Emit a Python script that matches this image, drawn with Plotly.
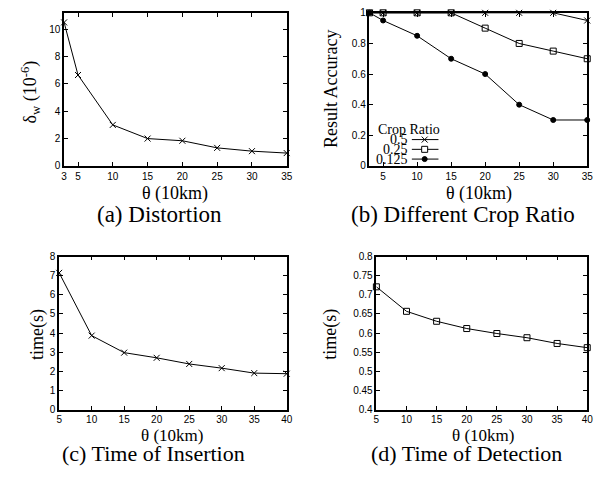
import plotly.graph_objects as go

# ── data ─────────────────────────────────────────────────────────────────────

THETA_A = [3, 5, 10, 15, 20, 25, 30, 35]
DELTA_W = [10.5, 6.65, 3.0, 2.0, 1.84, 1.32, 1.08, 0.94]

THETA_B = [3, 5, 10, 15, 20, 25, 30, 35]
CROP_RATIOS = ["0.5", "0.25", "0.125"]
ACC_050 = [1.0, 1.0, 1.0, 1.0, 1.0, 1.0, 1.0, 0.95]
ACC_025 = [1.0, 1.0, 1.0, 1.0, 0.9, 0.8, 0.75, 0.7]
ACC_0125 = [1.0, 0.95, 0.85, 0.7, 0.6, 0.4, 0.3, 0.3]

THETA_CD = [5, 10, 15, 20, 25, 30, 35, 40]
T_INSERT = [7.15, 3.87, 2.98, 2.71, 2.39, 2.17, 1.91, 1.88]
T_DETECT = [0.721, 0.657, 0.631, 0.612, 0.599, 0.588, 0.573, 0.562]

XTICKS_A = [3, 5, 10, 15, 20, 25, 30, 35]
XTICKS_B = [5, 10, 15, 20, 25, 30, 35]
XTICKS_CD = [5, 10, 15, 20, 25, 30, 35, 40]
YTICKS_A = [0, 2, 4, 6, 8, 10]
YTICKS_B = [0, 0.2, 0.4, 0.6, 0.8, 1]
YTICKS_C = [0, 1, 2, 3, 4, 5, 6, 7, 8]
YTICKS_D = [0.4, 0.45, 0.5, 0.55, 0.6, 0.65, 0.7, 0.75, 0.8]

# ── style ────────────────────────────────────────────────────────────────────

W, H = 608, 481
SANS = "Liberation Sans, Arial, sans-serif"
SERIF = "Liberation Serif, Times New Roman, serif"
BLACK = "#000000"


def px(x):
    return x / W


def py(y):
    return 1 - y / H


def line_trace(x, y, symbol, xa, ya, size=6):
    return go.Scatter(
        x=x, y=y, mode="lines+markers", xaxis=xa, yaxis=ya,
        line=dict(color=BLACK, width=1),
        marker=dict(symbol=symbol, size=size, color=BLACK,
                    line=dict(color=BLACK, width=1)),
        cliponaxis=False, showlegend=False,
    )


fig = go.Figure()
fig.add_trace(line_trace(THETA_A, DELTA_W, "x-thin", "x", "y"))
fig.add_trace(line_trace(THETA_B, ACC_050, "x-thin", "x2", "y2"))
fig.add_trace(line_trace(THETA_B, ACC_025, "square-open", "x2", "y2"))
fig.add_trace(line_trace(THETA_B, ACC_0125, "circle", "x2", "y2", size=5))
fig.add_trace(line_trace(THETA_CD, T_INSERT, "x-thin", "x3", "y3"))
fig.add_trace(line_trace(THETA_CD, T_DETECT, "square-open", "x4", "y4"))


def axis(domain, rng, ticks, anchor):
    return dict(
        domain=domain, range=rng, tickvals=ticks, anchor=anchor,
        showgrid=False, zeroline=False, showline=True, linecolor=BLACK,
        linewidth=1.5, mirror="ticks", ticks="inside", ticklen=4,
        tickcolor=BLACK, tickwidth=1, tickfont=dict(family=SANS, size=10, color=BLACK),
    )


fig.update_layout(
    width=W, height=H,
    margin=dict(l=0, r=0, t=0, b=0),
    paper_bgcolor="white", plot_bgcolor="white",
    hovermode=False,
    xaxis=axis([px(62), px(288)], [3, 35], XTICKS_A, "y"),
    yaxis=axis([py(164), py(7)], [0, 11.2], YTICKS_A, "x"),
    xaxis2=axis([px(372), px(593)], [3, 35], XTICKS_B, "y2"),
    yaxis2=axis([py(164), py(7)], [0, 1], YTICKS_B, "x2"),
    xaxis3=axis([px(57), px(288)], [5, 40], XTICKS_CD, "y3"),
    yaxis3=axis([py(414), py(257)], [0, 8], YTICKS_C, "x3"),
    xaxis4=axis([px(379), px(593)], [5, 40], XTICKS_CD, "y4"),
    yaxis4=axis([py(414), py(257)], [0.4, 0.8], YTICKS_D, "x4"),
)

# axis titles and captions
texts = [
    ("θ (10km)", 175, 192, 0, 18),
    ("θ (10km)", 483, 192, 0, 18),
    ("θ (10km)", 172, 440, 0, 17),
    ("θ (10km)", 487, 440, 0, 17),
    ("δ<sub>w</sub> (10<sup>-6</sup>)", 28, 88, -90, 18),
    ("Result Accuracy", 333, 85, -90, 18),
    ("time(s)", 35, 337, -90, 18),
    ("time(s)", 333, 337, -90, 18),
    ("(a) Distortion", 159, 214, 0, 23),
    ("(b) Different Crop Ratio", 467, 214, 0, 23),
    ("(c) Time of Insertion", 153, 459, 0, 22),
    ("(d) Time of Detection", 470, 459, 0, 22),
]
for t, x, y, ang, size in texts:
    fig.add_annotation(
        text=t, x=px(x), y=py(y), xref="paper", yref="paper",
        xanchor="center", yanchor="middle", showarrow=False, textangle=ang,
        font=dict(family=SERIF, size=size, color=BLACK),
    )

# legend of panel (b): labels on the left, sample line and marker on the right
fig.add_annotation(
    text="Crop Ratio", x=px(412), y=py(127), xref="paper", yref="paper",
    xanchor="center", yanchor="middle", showarrow=False,
    font=dict(family=SERIF, size=14, color=BLACK),
)
for i, label in enumerate(CROP_RATIOS):
    yy = 137 + 10 * i
    fig.add_annotation(
        text=label, x=px(413), y=py(yy), xref="paper", yref="paper",
        xanchor="right", yanchor="middle", showarrow=False,
        font=dict(family=SERIF, size=14, color=BLACK),
    )
    fig.add_shape(type="line", xref="paper", yref="paper",
                  x0=px(415), x1=px(442), y0=py(yy), y1=py(yy),
                  line=dict(color=BLACK, width=1))
    common = dict(xref="paper", yref="paper", xsizemode="pixel", ysizemode="pixel",
                  xanchor=px(428), yanchor=py(yy))
    if i == 0:
        fig.add_shape(type="line", x0=-3, x1=3, y0=-3, y1=3,
                      line=dict(color=BLACK, width=1), **common)
        fig.add_shape(type="line", x0=-3, x1=3, y0=3, y1=-3,
                      line=dict(color=BLACK, width=1), **common)
    elif i == 1:
        fig.add_shape(type="rect", x0=-3, x1=3, y0=-3, y1=3,
                      fillcolor="white", line=dict(color=BLACK, width=1), **common)
    else:
        fig.add_shape(type="circle", x0=-2.5, x1=2.5, y0=-2.5, y1=2.5,
                      fillcolor=BLACK, line=dict(color=BLACK, width=1), **common)

# the page body has a default 8px margin; drop it so the figure sits at (0, 0)
fig.write_html("out.html", config={"displayModeBar": False},
               post_script="document.body.style.margin='0px';")
